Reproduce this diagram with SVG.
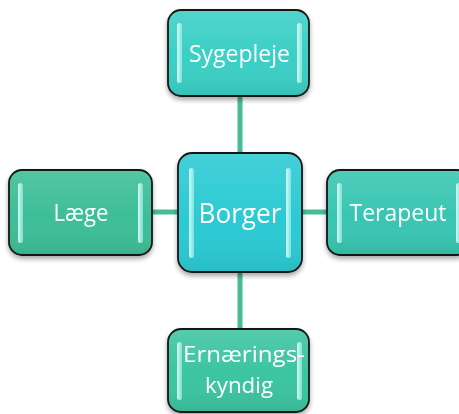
<svg xmlns="http://www.w3.org/2000/svg" width="459" height="414" viewBox="0 0 459 414">
<defs>
<filter id="sh" x="-20%" y="-20%" width="140%" height="150%">
<feGaussianBlur in="SourceAlpha" stdDeviation="2.5"/>
<feOffset dx="0" dy="3" result="b"/>
<feComponentTransfer><feFuncA type="linear" slope="0.35"/></feComponentTransfer>
<feMerge><feMergeNode/><feMergeNode in="SourceGraphic"/></feMerge>
</filter>
<linearGradient id="gloss" x1="0" y1="0" x2="0" y2="1">
<stop offset="0" stop-color="#ffffff" stop-opacity="0.12"/>
<stop offset="0.55" stop-color="#ffffff" stop-opacity="0"/>
<stop offset="1" stop-color="#000000" stop-opacity="0.07"/>
</linearGradient>
<linearGradient id="bar" x1="0" y1="0" x2="1" y2="0">
<stop offset="0" stop-color="#e8fffb" stop-opacity="0.9"/>
<stop offset="1" stop-color="#a8f5ee" stop-opacity="0.6"/>
</linearGradient>
</defs>
<style>
.box{stroke:#151515;stroke-width:1.8}
.gl{fill:url(#gloss)}
.bar{fill:url(#bar)}
.t{font-family:"Open Sans","Noto Sans",sans-serif;fill:#ffffff;text-anchor:middle}
.con{stroke:#46bc97;stroke-width:5;fill:none}
</style>
<g id="connectors">
<line class="con" x1="240" y1="96" x2="240" y2="154"/>
<line class="con" x1="240" y1="271" x2="240" y2="329"/>
<line class="con" x1="151" y1="212" x2="179" y2="212"/>
<line class="con" x1="301" y1="212" x2="328" y2="212"/>
</g>
<g id="node-sygepleje" filter="url(#sh)">
<rect class="box" x="168" y="10" width="141" height="86" rx="13" fill="#3acfc5"/>
<rect class="gl" x="169" y="11" width="139" height="84" rx="12"/>
<rect class="bar" x="177" y="23" width="5" height="60" rx="2.5"/>
<rect class="bar" x="297" y="23" width="5" height="60" rx="2.5"/>
<text class="t" x="239.5" y="61.5" font-size="23" textLength="101" lengthAdjust="spacingAndGlyphs">Sygepleje</text>
</g>
<g id="node-borger" filter="url(#sh)">
<rect class="box" x="178" y="153" width="124" height="119" rx="14" fill="#2ccad3"/>
<rect class="gl" x="179" y="154" width="122" height="117" rx="13"/>
<rect class="bar" x="189" y="168" width="5" height="90" rx="2.5"/>
<rect class="bar" x="286" y="168" width="5" height="90" rx="2.5"/>
<text class="t" x="240" y="222.5" font-size="28" textLength="83" lengthAdjust="spacingAndGlyphs">Borger</text>
</g>
<g id="node-laege" filter="url(#sh)">
<rect class="box" x="9" y="170" width="143" height="85" rx="13" fill="#3dbe97"/>
<rect class="gl" x="10" y="171" width="141" height="83" rx="12"/>
<rect class="bar" x="18" y="183" width="5" height="60" rx="2.5"/>
<rect class="bar" x="138" y="183" width="5" height="60" rx="2.5"/>
<text class="t" x="81" y="220.5" font-size="23" textLength="55" lengthAdjust="spacingAndGlyphs">Læge</text>
</g>
<g id="node-terapeut" filter="url(#sh)">
<rect class="box" x="327" y="170" width="143" height="85" rx="13" fill="#38c6b2"/>
<rect class="gl" x="328" y="171" width="141" height="83" rx="12"/>
<rect class="bar" x="337" y="183" width="5" height="60" rx="2.5"/>
<rect class="bar" x="456" y="183" width="5" height="60" rx="2.5"/>
<text class="t" x="398" y="220.5" font-size="23" textLength="97" lengthAdjust="spacingAndGlyphs">Terapeut</text>
</g>
<g id="node-ernaering" filter="url(#sh)">
<rect class="box" x="168" y="329" width="141" height="83" rx="13" fill="#3cc4a1"/>
<rect class="gl" x="169" y="330" width="139" height="81" rx="12"/>
<rect class="bar" x="177" y="342" width="5" height="58" rx="2.5"/>
<rect class="bar" x="297" y="342" width="5" height="58" rx="2.5"/>
<text class="t" x="244" y="362" font-size="22" textLength="122" lengthAdjust="spacingAndGlyphs">Ernærings-</text>
<text class="t" x="239" y="393" font-size="22" textLength="68" lengthAdjust="spacingAndGlyphs">kyndig</text>
</g>
</svg>
